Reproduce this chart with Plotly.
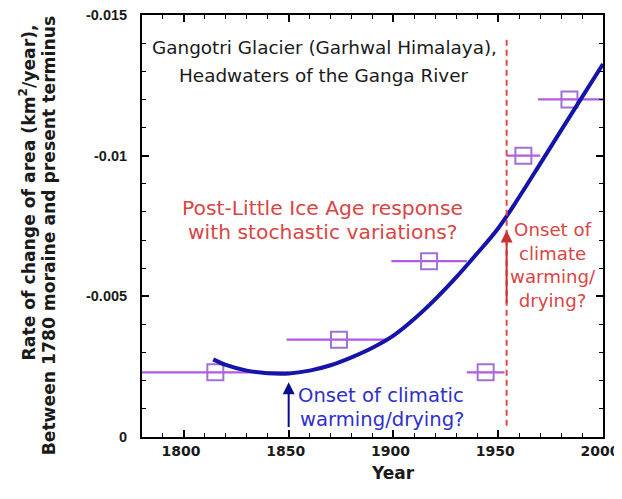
import plotly.graph_objects as go

# ---- data ----
obs_year = [1815, 1874, 1917, 1944, 1962, 1984]
obs_rate = [-0.0023, -0.00346, -0.00625, -0.0023, -0.0100, -0.0120]
obs_err_minus = [35, 25, 18, 9, 8, 15]
obs_err_plus = [35, 24, 18, 9, 8, 16]

fit_year = [1814, 1820, 1830, 1840, 1850, 1860, 1870, 1880, 1890, 1900,
            1910, 1920, 1930, 1940, 1950, 1960, 1970, 1980, 1990, 2000]
fit_rate = [-0.00276, -0.00256, -0.00236, -0.00227, -0.00226, -0.00236,
            -0.00255, -0.00283, -0.00317, -0.00360, -0.00420, -0.00490,
            -0.00568, -0.00653, -0.00742, -0.00853, -0.00971, -0.01090,
            -0.01208, -0.01326]

x_ticks = [1800, 1850, 1900, 1950, 2000]
y_ticks = [0, -0.005, -0.01, -0.015]
y_ticklabels = ["0", "-0.005", "-0.01", "-0.015"]

onset_warming_year = 1954
onset_climatic_year = 1850

FONT = "DejaVu Sans"
BLACK = "#1a1a1a"
RED = "#d94545"
BLUE = "#3030c8"
PURPLE_BAR = "#b25ae0"
PURPLE_SQ = "#a070d8"
CURVE = "#1414a8"

fig = go.Figure()

fig.add_trace(go.Scatter(
    x=obs_year, y=obs_rate, mode="markers",
    marker=dict(symbol="square-open", size=16, color=PURPLE_SQ,
                line=dict(width=2, color=PURPLE_SQ)),
    error_x=dict(type="data", array=obs_err_plus, arrayminus=obs_err_minus,
                 symmetric=False, width=0, thickness=2.2, color=PURPLE_BAR),
    showlegend=False, hoverinfo="skip"))

fig.add_trace(go.Scatter(
    x=fit_year, y=fit_rate, mode="lines",
    line=dict(color=CURVE, width=4, shape="spline"),
    showlegend=False, hoverinfo="skip"))

fig.add_shape(type="line", xref="x", yref="y",
              x0=onset_warming_year, x1=onset_warming_year,
              y0=-0.0004, y1=-0.0142,
              line=dict(color="#e04848", width=2, dash="6px,4px"))

annotations = []
annotations.append(dict(x=onset_warming_year, y=-0.00734, ax=onset_warming_year,
                        ay=-0.0044, xref="x", yref="y", axref="x", ayref="y",
                        showarrow=True, arrowhead=2, arrowsize=1.2,
                        arrowwidth=2, arrowcolor="#c83232", text=" "))
annotations.append(dict(x=onset_climatic_year, y=-0.00195, ax=onset_climatic_year,
                        ay=0.0, xref="x", yref="y", axref="x", ayref="y",
                        showarrow=True, arrowhead=2, arrowsize=1.2,
                        arrowwidth=2, arrowcolor="#0c0c90", text=" "))

def txt(s, x, y, color, size, bold=False, xref="x", yref="y", angle=0, family=FONT):
    return dict(text=s, x=x, y=y, xref=xref, yref=yref, showarrow=False,
                xanchor="center", yanchor="middle", textangle=angle,
                font=dict(family=family, size=size, color=color,
                          weight="bold" if bold else "normal"))

annotations.append(txt("Gangotri Glacier (Garhwal Himalaya),", 1867.2, -0.01384, BLACK, 18.4))
annotations.append(txt("Headwaters of the Ganga River", 1866.7, -0.01285, BLACK, 18.4))
annotations.append(txt("Post-Little Ice Age response", 1866.2, -0.00814, RED, 20.3))
annotations.append(txt("with stochastic variations?", 1866.2, -0.00729, RED, 20.3))
annotations.append(txt("Onset of climatic", 1893.9, -0.00146, BLUE, 19.6))
annotations.append(txt("warming/drying?", 1894.9, -0.000615, BLUE, 19.6))
annotations.append(txt("Onset of<br>climate<br>warming/<br>drying?", 1976.1, -0.0061,
                       RED, 18.2))

annotations.append(txt("Rate of change of area (km<sup>2</sup>/year),", -0.2486, 0.5806,
                       BLACK, 17.2, bold=True, xref="paper", yref="paper", angle=-90))
annotations.append(txt("Between 1780 moraine and present terminus", -0.2009, 0.4787,
                       BLACK, 17.2, bold=True, xref="paper", yref="paper", angle=-90))
annotations.append(txt("Year", 0.544, -0.0853, BLACK, 17, bold=True,
                       xref="paper", yref="paper"))

xaxis = dict(
    range=[1780, 2000], tickmode="array", tickvals=x_ticks,
    ticks="inside", ticklen=7, tickwidth=2, tickcolor="#000000",
    showline=True, linewidth=2, linecolor="#000000", mirror="allticks",
    showgrid=False, zeroline=False, ticklabeloverflow="allow",
    ticklabelshift=-3, layer="above traces",
    tickfont=dict(family=FONT, size=14, color=BLACK, weight="bold"),
    minor=dict(tickmode="linear", tick0=1780, dtick=10, ticks="inside",
               ticklen=4, tickwidth=1.2, tickcolor="#000000", showgrid=False),
)
yaxis = dict(
    range=[0, -0.015], tickmode="array", tickvals=y_ticks, ticktext=y_ticklabels,
    ticks="inside", ticklen=7, tickwidth=2, tickcolor="#000000",
    showline=True, linewidth=2, linecolor="#000000", mirror="allticks",
    showgrid=False, zeroline=False, ticklabeloverflow="allow",
    layer="above traces",
    tickfont=dict(family="Liberation Sans", size=14.5, color=BLACK, weight="bold"),
    ticklabelstandoff=10,
    minor=dict(tickmode="linear", tick0=0, dtick=0.001, ticks="inside",
               ticklen=4, tickwidth=1.2, tickcolor="#000000", showgrid=False),
)

# the page adds an 8px body margin; keep the page short enough to avoid a scrollbar
fig.update_layout(
    template="none",
    width=614, height=478,
    margin=dict(l=134, r=19, t=7, b=49),
    paper_bgcolor="white", plot_bgcolor="rgba(0,0,0,0)",
    xaxis=xaxis, yaxis=yaxis,
    annotations=annotations,
    showlegend=False,
)

fig.write_html("out.html")
